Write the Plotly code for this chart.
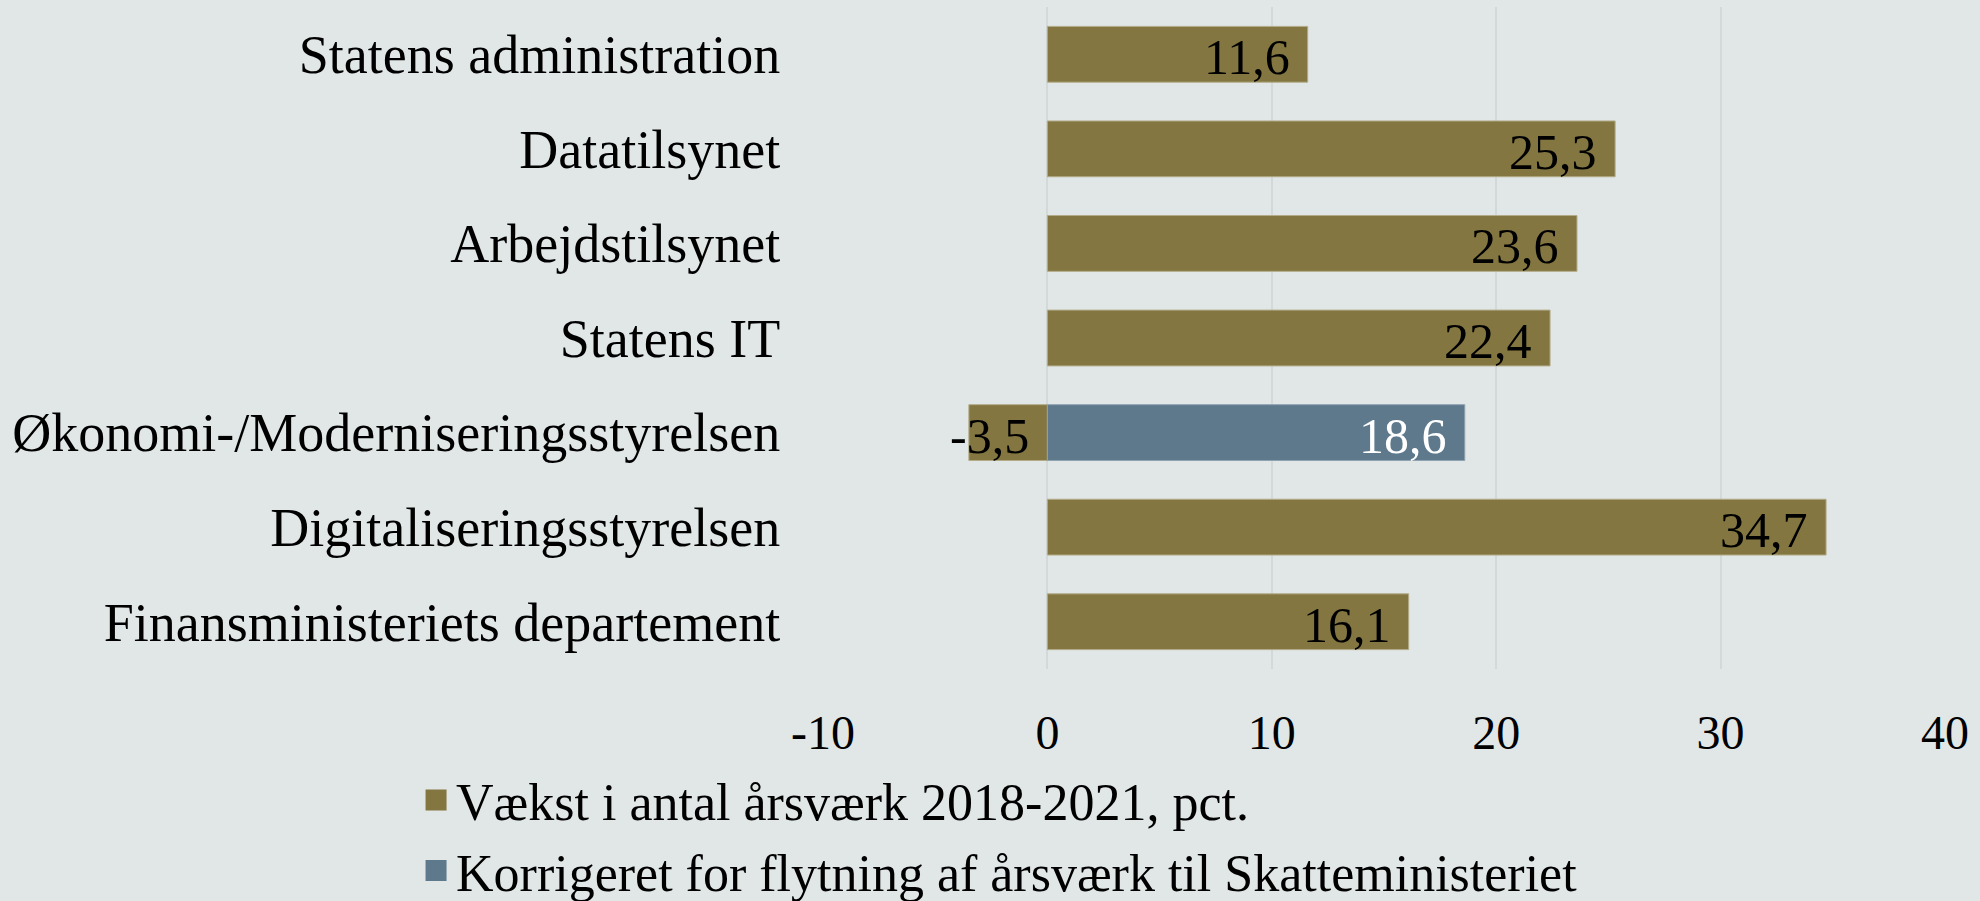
import plotly.graph_objects as go

categories = [
    "Statens administration",
    "Datatilsynet",
    "Arbejdstilsynet",
    "Statens IT",
    "Økonomi-/Moderniseringsstyrelsen",
    "Digitaliseringsstyrelsen",
    "Finansministeriets departement",
]
vaekst = [11.6, 25.3, 23.6, 22.4, -3.5, 34.7, 16.1]
korrigeret = [None, None, None, None, 18.6, None, None]

series_names = [
    "Vækst i antal årsværk 2018-2021, pct.",
    "Korrigeret for flytning af årsværk til Skatteministeriet",
]
x_ticks = [-10, 0, 10, 20, 30, 40]

GOLD = "#837640"
BLUE = "#5E798C"
BG = "#E1E7E7"
FONT = "Liberation Serif"

fig = go.Figure()
fig.add_trace(go.Bar(
    y=categories, x=vaekst, orientation="h", name=series_names[0],
    marker=dict(color=GOLD, line=dict(color="#B3AB88", width=1)),
    showlegend=False,
))
fig.add_trace(go.Bar(
    y=categories, x=korrigeret, orientation="h", name=series_names[1],
    marker=dict(color=BLUE, line=dict(color="#8FA2B0", width=1)),
    showlegend=False,
))

# legend entries with larger square symbols
for name, col in zip(series_names, [GOLD, BLUE]):
    fig.add_trace(go.Scatter(
        x=[None], y=[None], mode="markers", name=name,
        marker=dict(symbol="square", size=16, color=col, line=dict(color=col, width=5)),
        showlegend=True,
    ))

def fmt(v):
    return f"{v:.1f}".replace(".", ",")

annotations = []
for cat, v in zip(categories, vaekst):
    annotations.append(dict(
        x=max(v, 0), y=cat, xref="x", yref="y", text=fmt(v),
        xanchor="right", yanchor="middle", xshift=-16, yshift=-3, showarrow=False,
        font=dict(family=FONT, size=50, color="black"),
    ))
for cat, v in zip(categories, korrigeret):
    if v is None:
        continue
    annotations.append(dict(
        x=v, y=cat, xref="x", yref="y", text=fmt(v),
        xanchor="right", yanchor="middle", xshift=-16, yshift=-3, showarrow=False,
        font=dict(family=FONT, size=50, color="white"),
    ))

fig.update_layout(
    width=1980, height=901,
    paper_bgcolor=BG, plot_bgcolor=BG,
    barmode="relative", bargap=0.41,
    margin=dict(l=823, r=35, t=7, b=232, autoexpand=False),
    font=dict(family=FONT, size=50, color="black"),
    annotations=annotations,
    xaxis=dict(
        range=[-10, 40], tickvals=x_ticks, ticktext=[str(t) for t in x_ticks],
        showgrid=True, gridcolor="#D3D8D8", gridwidth=1.5, zeroline=False,
        ticks="outside", ticklen=21, tickcolor="rgba(0,0,0,0)",
        tickfont=dict(family=FONT, size=48, color="black"),
        showline=False, fixedrange=True,
    ),
    yaxis=dict(
        autorange="reversed", showgrid=False, zeroline=False,
        ticks="outside", ticklen=31, tickcolor="rgba(0,0,0,0)",
        tickfont=dict(family=FONT, size=54, color="black"),
        showline=False, fixedrange=True,
    ),
    legend=dict(
        orientation="v", x=-0.3627, xanchor="left", y=-0.137, yanchor="top",
        bgcolor="rgba(0,0,0,0)", font=dict(family=FONT, size=52, color="black"),
        itemwidth=30, tracegroupgap=0,
    ),
    showlegend=True,
)

fig.write_html(
    "out.html",
    config={"displayModeBar": False},
    post_script="document.body.style.margin='0';",
)
